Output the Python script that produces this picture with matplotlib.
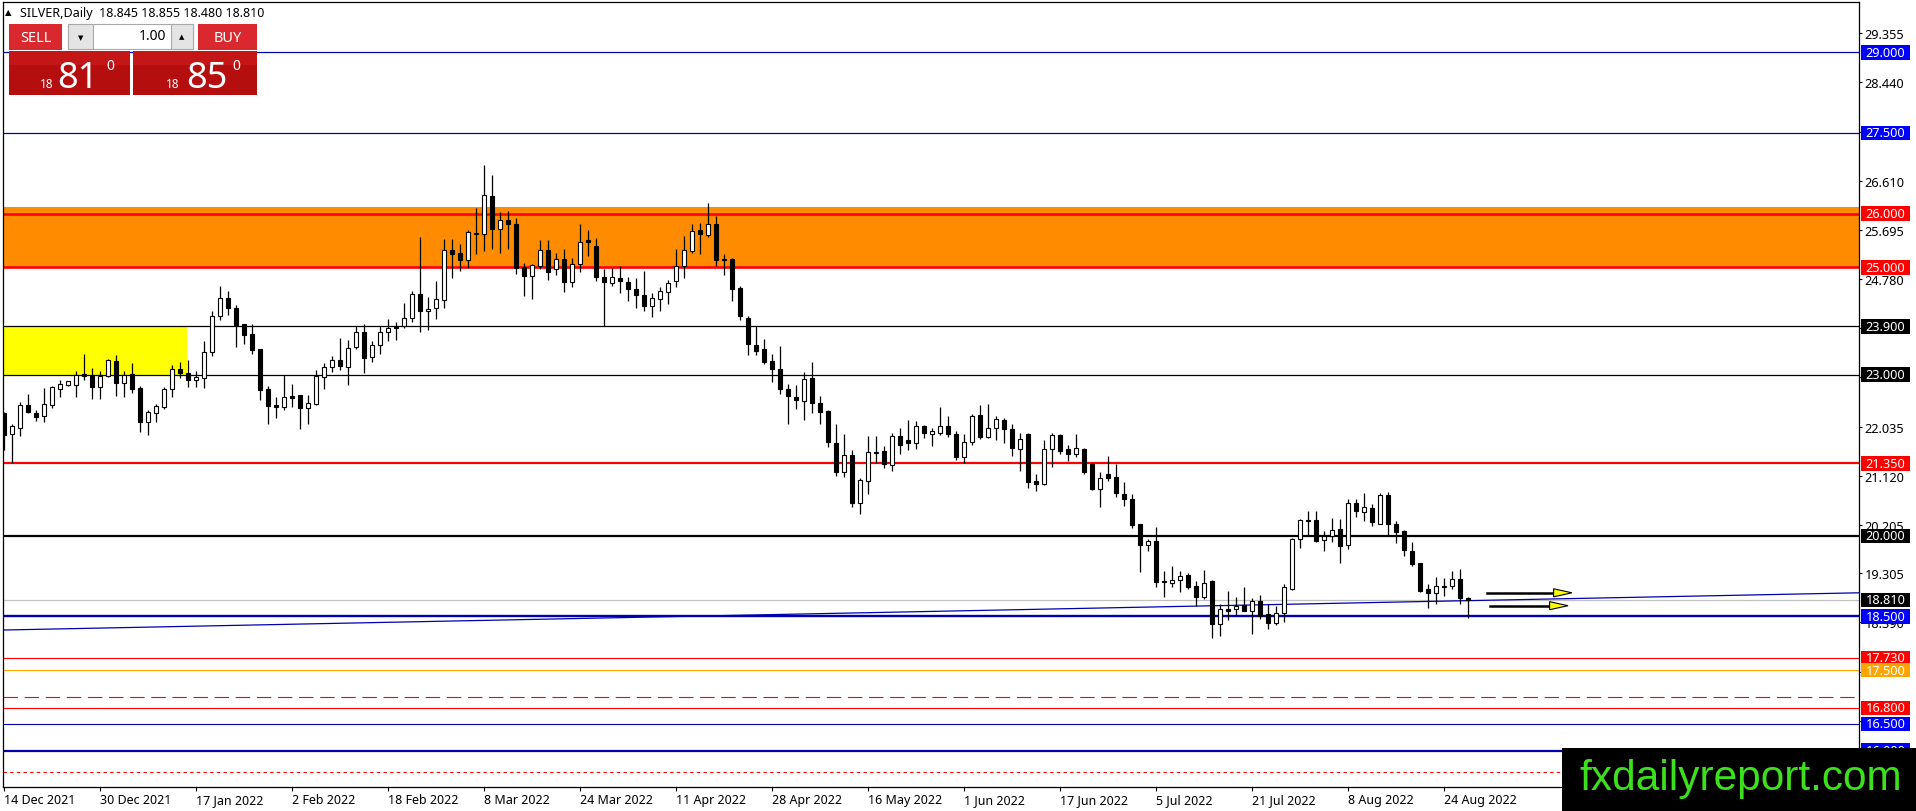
import matplotlib.pyplot as plt
from matplotlib.patches import Rectangle
import numpy as np

plt.rcParams['font.family'] = ['Noto Sans', 'DejaVu Sans']

# daily candles, 14 Dec 2021 .. 29 Aug 2022 (one entry per bar)
opens = [22.28, 21.89, 22.01, 22.43, 22.29, 22.23, 22.44, 22.74, 22.80, 22.80,
         23.01, 22.975, 22.775, 22.975, 23.26, 22.84, 23.01, 22.76, 22.12, 22.29,
         22.40, 22.725, 23.11, 23.025, 22.91, 22.94, 23.42, 24.09, 24.43, 24.24,
         23.94, 23.76, 23.475, 22.73, 22.43, 22.40, 22.60, 22.615, 22.38, 22.455,
         22.96, 23.15, 23.27, 23.15, 23.52, 23.79, 23.33, 23.55, 23.79, 23.90,
         23.905, 24.06, 24.51, 24.18, 24.24, 24.39, 25.33, 25.27, 25.13, 25.62,
         25.61, 26.33, 25.72, 25.88, 25.81, 25.01, 24.83, 25.03, 25.33, 24.96,
         25.16, 24.72, 25.06, 25.50, 25.405, 24.82, 24.71, 24.80, 24.72, 24.59,
         24.49, 24.28, 24.41, 24.54, 24.74, 25.03, 25.30, 25.70, 25.60, 25.81,
         25.16, 25.16, 24.62, 24.06, 23.56, 23.47, 23.25, 23.11, 22.73, 22.59,
         22.51, 22.94, 22.48, 22.32, 21.73, 21.18, 21.51, 20.62, 21.03, 21.56,
         21.58, 21.32, 21.86, 21.78, 21.72, 22.04, 21.90, 21.92, 22.04, 21.90,
         21.47, 21.75, 22.25, 21.84, 22.00, 22.15, 21.98, 21.61, 21.89, 21.02,
         20.97, 21.61, 21.88, 21.61, 21.52, 21.61, 21.34, 20.88, 21.15, 21.10,
         20.77, 20.68, 20.22, 19.83, 19.91, 19.16, 19.13, 19.18, 19.28, 19.07,
         18.86, 19.16, 18.35, 18.63, 18.63, 18.71, 18.61, 18.79, 18.54, 18.37,
         18.56, 19.02, 19.94, 20.30, 20.30, 19.92, 20.00, 20.12, 19.83, 20.61,
         20.45, 20.52, 20.23, 20.76, 20.23, 20.09, 19.72, 19.49, 19.01, 18.93,
         19.07, 19.06, 19.19, 18.845]
highs = [22.31, 22.09, 22.49, 22.64, 22.34, 22.76, 22.79, 22.90, 22.88, 23.06,
         23.39, 23.12, 23.06, 23.29, 23.36, 23.06, 23.21, 22.79, 22.34, 22.46,
         22.775, 23.175, 23.24, 23.275, 23.06, 23.62, 24.18, 24.66, 24.55, 24.29,
         23.94, 23.95, 23.475, 22.79, 22.59, 22.99, 22.82, 22.63, 22.63, 23.09,
         23.22, 23.35, 23.69, 23.64, 23.90, 23.95, 23.63, 23.90, 24.04, 23.98,
         24.33, 24.56, 25.57, 24.45, 24.74, 25.53, 25.52, 25.44, 25.70, 26.105,
         26.91, 26.725, 26.02, 26.04, 25.92, 25.08, 25.07, 25.50, 25.50, 25.27,
         25.34, 25.18, 25.81, 25.69, 25.55, 24.97, 24.99, 25.03, 24.82, 24.80,
         24.93, 24.52, 24.64, 24.77, 25.34, 25.58, 25.80, 25.83, 26.19, 25.96,
         25.25, 25.18, 24.65, 24.10, 23.90, 23.67, 23.38, 23.54, 22.82, 22.80,
         23.05, 23.24, 22.60, 22.35, 22.08, 21.90, 21.59, 21.08, 21.86, 21.86,
         21.67, 21.92, 22.01, 22.15, 22.14, 22.07, 22.01, 22.40, 22.23, 21.95,
         21.90, 22.27, 22.43, 22.45, 22.23, 22.19, 22.09, 21.92, 21.92, 21.16,
         21.78, 21.92, 21.89, 21.70, 21.89, 21.64, 21.35, 21.18, 21.49, 21.33,
         21.01, 20.77, 20.23, 19.95, 20.16, 19.35, 19.44, 19.35, 19.30, 19.16,
         19.37, 19.17, 18.73, 18.98, 18.86, 19.05, 18.85, 18.90, 18.74, 18.70,
         19.10, 19.96, 20.32, 20.47, 20.47, 20.09, 20.33, 20.31, 20.68, 20.68,
         20.80, 20.59, 20.79, 20.82, 20.27, 20.11, 19.89, 19.50, 19.11, 19.24,
         19.22, 19.35, 19.39, 18.855]
lows = [21.60, 21.36, 21.86, 22.29, 22.14, 22.12, 22.38, 22.59, 22.79, 22.59,
        22.91, 22.54, 22.54, 22.96, 22.61, 22.59, 22.66, 21.93, 21.88, 22.12,
        22.37, 22.59, 22.93, 22.775, 22.77, 22.76, 23.34, 24.025, 24.12, 23.51,
        23.575, 23.38, 22.525, 22.075, 22.19, 22.34, 22.40, 21.98, 22.08, 22.43,
        22.74, 23.05, 23.09, 22.80, 23.48, 23.04, 23.235, 23.38, 23.63, 23.645,
        23.87, 23.98, 23.79, 23.83, 24.03, 24.25, 24.80, 24.93, 24.99, 25.24,
        25.30, 25.34, 25.27, 25.34, 24.87, 24.47, 24.41, 24.97, 24.77, 24.85,
        24.54, 24.63, 24.91, 25.21, 24.74, 23.905, 24.65, 24.52, 24.37, 24.25,
        24.18, 24.08, 24.18, 24.31, 24.63, 24.80, 25.27, 25.25, 25.56, 25.03,
        24.85, 24.37, 24.02, 23.37, 23.36, 23.19, 22.86, 22.64, 22.08, 22.37,
        22.16, 22.28, 22.08, 21.66, 21.11, 21.10, 20.54, 20.40, 20.77, 21.36,
        21.27, 21.21, 21.53, 21.60, 21.61, 21.83, 21.67, 21.88, 21.84, 21.41,
        21.36, 21.69, 21.81, 21.83, 21.78, 21.73, 21.49, 21.21, 20.90, 20.84,
        20.95, 21.28, 21.52, 21.39, 21.46, 21.16, 20.86, 20.54, 21.02, 20.72,
        20.56, 20.15, 19.32, 19.72, 19.04, 18.87, 19.04, 18.95, 19.01, 18.70,
        18.82, 18.09, 18.13, 18.43, 18.53, 18.60, 18.18, 18.45, 18.26, 18.34,
        18.39, 18.99, 19.78, 20.00, 19.88, 19.72, 19.89, 19.50, 19.75, 20.35,
        20.28, 20.19, 20.22, 20.00, 19.86, 19.63, 19.44, 18.96, 18.66, 18.74,
        18.88, 19.02, 18.74, 18.48]
closes = [21.87, 22.04, 22.43, 22.31, 22.21, 22.46, 22.77, 22.82, 22.875, 23.00,
          22.97, 22.775, 22.975, 23.275, 22.84, 22.99, 22.74, 22.12, 22.31, 22.41,
          22.73, 23.11, 23.04, 22.90, 22.95, 23.42, 24.09, 24.43, 24.24, 23.93,
          23.74, 23.46, 22.71, 22.42, 22.40, 22.59, 22.57, 22.38, 22.48, 22.975,
          23.15, 23.27, 23.16, 23.50, 23.79, 23.32, 23.55, 23.79, 23.87, 23.87,
          24.06, 24.51, 24.18, 24.23, 24.40, 25.33, 25.24, 25.13, 25.66, 25.64,
          26.35, 25.72, 25.88, 25.81, 24.99, 24.83, 25.05, 25.33, 24.91, 25.16,
          24.72, 25.06, 25.47, 25.47, 24.82, 24.72, 24.82, 24.74, 24.59, 24.48,
          24.28, 24.42, 24.56, 24.71, 25.03, 25.33, 25.68, 25.61, 25.81, 25.13,
          25.13, 24.60, 24.09, 23.58, 23.45, 23.24, 23.10, 22.73, 22.60, 22.53,
          22.92, 22.48, 22.30, 21.75, 21.19, 21.51, 20.62, 21.04, 21.56, 21.54,
          21.34, 21.86, 21.70, 21.72, 22.04, 21.92, 21.95, 22.04, 21.89, 21.47,
          21.75, 22.23, 21.84, 22.00, 22.17, 21.98, 21.63, 21.81, 21.01, 20.97,
          21.61, 21.88, 21.58, 21.52, 21.63, 21.18, 20.87, 21.07, 21.08, 20.79,
          20.68, 20.20, 19.83, 19.91, 19.15, 19.15, 19.17, 19.26, 19.04, 18.87,
          19.13, 18.35, 18.63, 18.60, 18.70, 18.61, 18.79, 18.51, 18.37, 18.56,
          19.04, 19.94, 20.30, 20.27, 19.91, 20.00, 20.11, 19.81, 20.61, 20.47,
          20.53, 20.25, 20.76, 20.23, 20.08, 19.73, 19.47, 18.98, 18.93, 19.06,
          19.04, 19.19, 18.84, 18.81]

date_labels = ['14 Dec 2021', '30 Dec 2021', '17 Jan 2022', '2 Feb 2022', '18 Feb 2022',
               '8 Mar 2022', '24 Mar 2022', '11 Apr 2022', '28 Apr 2022', '16 May 2022',
               '1 Jun 2022', '17 Jun 2022', '5 Jul 2022', '21 Jul 2022', '8 Aug 2022',
               '24 Aug 2022']
date_bars = [0, 12, 24, 36, 48, 60, 72, 84, 96, 108, 120, 132, 144, 156, 168, 180]

price_ticks = [29.355, 28.440, 27.525, 26.610, 25.695, 24.780, 23.865, 22.950,
               22.035, 21.120, 20.205, 19.305, 18.390, 17.475, 16.560, 15.645]
# labels fully covered by the level boxes are left blank
hidden_ticks = [27.525, 23.865, 22.950, 17.475, 15.645]

# horizontal levels drawn on the chart, with their right-hand labels
levels = [29.0, 27.5, 26.0, 25.0, 23.9, 23.0, 21.35, 20.0, 18.81, 18.5, 17.73, 17.5, 16.8, 16.5, 16.0]
level_line = ['#0000b0', '#0000b0', '#ff0000', '#ff0000', 'black', 'black', '#ff0000', 'black',
              '#c0c0c0', '#0000b0', '#ff0000', '#ffa500', '#ff0000', '#0000b0', '#0000b0']
level_box = ['#0000ff', '#0000ff', '#ff0000', '#ff0000', 'black', 'black', '#ff0000', 'black',
             'black', '#0000ff', '#ff0000', '#ffa500', '#ff0000', '#0000ff', '#0000ff']
level_lw = [0.9, 0.9, 1.9, 1.9, 0.9, 0.9, 1.6, 1.6, 0.9, 1.7, 0.8, 0.8, 0.8, 0.8, 1.6]

orange_zone = (25.0, 26.13)
yellow_zone = (23.0, 23.9, 22.9)     # low, high, last bar covered
trend = (18.247, 18.94)              # trend line price at left / right edge
arrows = [(185.4, 196.0, 18.94), (185.75, 195.5, 18.70)]

W, H = 1916, 812
fig = plt.figure(figsize=(W / 100, H / 100), dpi=100)
ax = fig.add_axes([3 / W, 1 - 788 / H, 1856 / W, 785 / H])
xmin, xmax = -0.125, 231.875
ax.set_xlim(xmin, xmax)
ax.set_ylim(15.325, 29.938)

ax.axhspan(*orange_zone, color='#ff8c00', zorder=0.5, lw=0)
ax.add_patch(Rectangle((xmin, yellow_zone[0]), yellow_zone[2] - xmin,
                       yellow_zone[1] - yellow_zone[0], color='#ffff00', lw=0, zorder=0.6))

for lv, c, lw in zip(levels, level_line, level_lw):
    ax.axhline(lv, color=c, lw=lw, zorder=1)
ax.axhline(17.0, color='#ff0000', lw=0.8, ls=(0, (13, 6)), zorder=1)
ax.axhline(15.6, color='#ff0000', lw=0.8, ls=(0, (3, 3)), zorder=1)

ax.plot([xmin, xmax], trend, color='#0000b0', lw=0.9, zorder=1.2)

x = np.arange(len(opens))
o = np.array(opens); c = np.array(closes)
ax.vlines(x, lows, highs, color='black', lw=0.9, zorder=2)
bottom = np.minimum(o, c)
height = np.maximum(np.abs(c - o), 0.012)
fill = ['white' if cc >= oo else 'black' for oo, cc in zip(o, c)]
ax.bar(x, height, bottom=bottom, width=0.62, color=fill, edgecolor='black', linewidth=0.8, zorder=3)

for x0, x1, p in arrows:
    ax.plot([x0, x1 - 1.5], [p, p], color='black', lw=1.8, zorder=4)
    ax.fill([x1 - 2.3, x1, x1 - 2.3], [p + 0.075, p, p - 0.075],
            facecolor='#ffff00', edgecolor='black', lw=0.8, zorder=5)

ax.yaxis.tick_right()
ax.set_yticks(price_ticks)
ax.set_yticklabels(['' if t in hidden_ticks else f'{t:.3f}' for t in price_ticks])
ax.tick_params(axis='y', length=2.5, width=0.8, pad=1.5, labelsize=9.2)
ax.set_xticks(date_bars)
ax.set_xticklabels(date_labels)
ax.tick_params(axis='x', length=3, width=0.8, pad=1, labelsize=9)
for lbl in ax.get_xticklabels():
    lbl.set_ha('left')
for s in ax.spines.values():
    s.set_linewidth(0.9)

ytr = ax.get_yaxis_transform()
for lv, bc in zip(levels, level_box):
    ax.add_patch(Rectangle((1.00108, lv - 0.135), 0.0264, 0.27, transform=ytr,
                           facecolor=bc, edgecolor='none', clip_on=False, zorder=6))
    ax.text(1.0143, lv, f'{lv:.3f}', transform=ytr, color='white', fontsize=9.2,
            ha='center', va='center', clip_on=False, zorder=7)

# overlay in pixel coordinates for the trade panel and the watermark
ov = fig.add_axes([0, 0, 1, 1])
ov.set_xlim(0, W); ov.set_ylim(H, 0)
ov.axis('off'); ov.patch.set_alpha(0); ov.set_zorder(5)

ov.text(5, 13, '▲', fontsize=6, va='center', family=['DejaVu Sans'])
ov.text(20, 13, f'SILVER,Daily  {opens[-1]:.3f} {highs[-1]:.3f} {lows[-1]:.3f} {closes[-1]:.3f}',
        fontsize=9, va='center')

for bx, bw in [(9, 121), (133, 124)]:
    ov.add_patch(Rectangle((bx, 52), bw, 44, facecolor='#b50e0e', edgecolor='none'))
    ov.add_patch(Rectangle((bx, 52), bw, 14, facecolor='#c41616', edgecolor='none'))
ov.add_patch(Rectangle((9, 25), 53, 26, facecolor='#d9292e', edgecolor='none'))
ov.add_patch(Rectangle((198, 25), 59, 26, facecolor='#d9292e', edgecolor='none'))
ov.add_patch(Rectangle((68, 25), 125, 25, facecolor='white', edgecolor='#a8a8a8', lw=0.8))
ov.add_patch(Rectangle((68, 25), 25, 25, facecolor='#e4e4e4', edgecolor='#a8a8a8', lw=0.8))
ov.add_patch(Rectangle((171, 25), 22, 25, facecolor='#e4e4e4', edgecolor='#a8a8a8', lw=0.8))
ov.text(80.5, 38, '▼', fontsize=5, ha='center', va='center', family=['DejaVu Sans'])
ov.text(182, 37, '▲', fontsize=5, ha='center', va='center', family=['DejaVu Sans'])
ov.text(166, 37, '1.00', fontsize=10, ha='right', va='center')
ov.text(35.5, 38, 'SELL', fontsize=10.5, color='white', ha='center', va='center')
ov.text(227.5, 38, 'BUY', fontsize=10.5, color='white', ha='center', va='center')
for x18, xbig, xsup, big in [(40, 57, 106, '81'), (166, 186, 232, '85')]:
    ov.text(x18, 88, '18', fontsize=8.5, color='white', ha='left', va='baseline', weight='bold')
    ov.text(xbig, 88, big, fontsize=26, color='white', ha='left', va='baseline')
    ov.text(xsup, 70, '0', fontsize=10, color='white', ha='left', va='baseline', weight='bold')

ov.add_patch(Rectangle((1562, 749), 354, 63, facecolor='black', edgecolor='none'))
ov.text(1579, 790, 'fxdailyreport.com', fontsize=30.5, color='#3ce01c',
        family=['Liberation Sans'], ha='left', va='baseline')

fig.savefig('out.png', dpi=100)
